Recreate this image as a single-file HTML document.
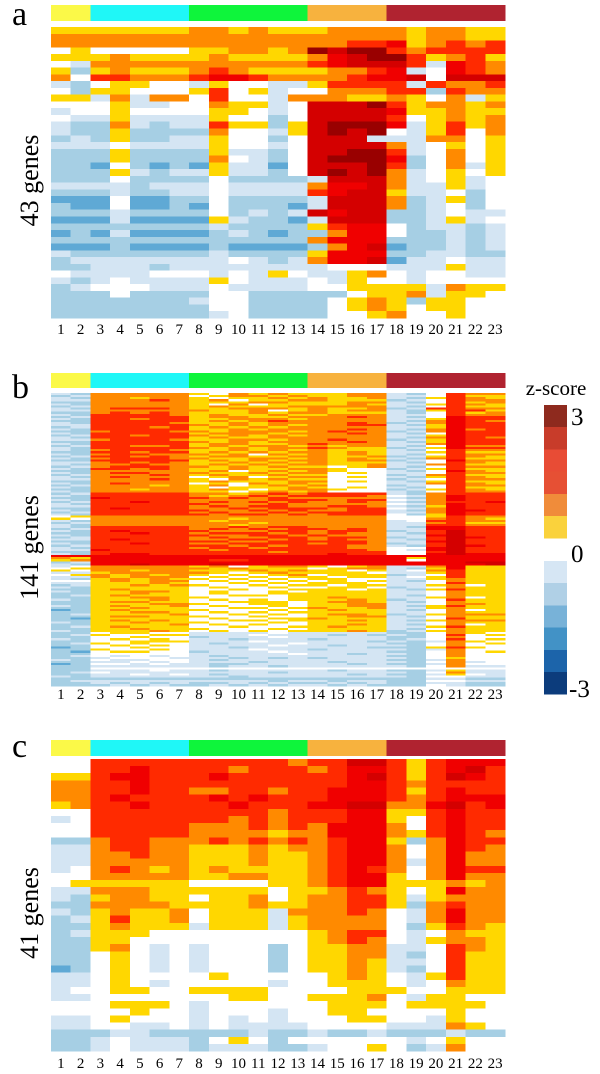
<!DOCTYPE html>
<html><head><meta charset="utf-8"><style>
html,body{margin:0;padding:0;background:#fff;width:600px;height:1074px;overflow:hidden}
svg{display:block}
text{font-family:"Liberation Serif","DejaVu Serif",serif;fill:#000}
</style></head><body>
<svg id="fig" width="600" height="1074" viewBox="0 0 600 1074" xmlns="http://www.w3.org/2000/svg" shape-rendering="crispEdges" font-family="Liberation Serif, serif"></svg>
<script>
// ---- data ----
const columns = ["1","2","3","4","5","6","7","8","9","10","11","12","13","14","15","16","17","18","19","20","21","22","23"];
const groupSpans = [[1,2],[3,7],[8,13],[14,17],[18,23]];
const groupColors = ["#fbf948","#1ff7f7","#0ef53b","#f7b23e","#b02330"];
// z-score level codes: 0..2 blues, 3 white (~0), 4..9 yellow->dark red
const levelColors = ["#5fa9d5","#a6cfe4","#d4e5f3","#ffffff","#ffd700","#ff8a00","#ff2a00","#f00000","#d40000","#990000"];
const panelA = [
"44444445545444555545544","55555555555555555545544","55555555555555566745656","34333334455459899656666",
"44454444544445789964564","32555555555556788862765","41454445654444556723765","53665556776555567783888",
"21344332433224666626556","31443334634233555661655","44252553633255544543524","33342233544238889645545",
"23343333443238888744544","32242222433138888634545","21152122644148999724645","21141111533248989324635",
"12141122433138882225534","22232222433238888523434","11141111422138899623534","11141111532138999713534",
"11031010422038889613524","11142122422138989523434","11131111311112888523423","22221222322225778522423",
"11121122322226788422313","00030011311112888512413","10030010311102888512313","11121111312128788112322",
"00020000421102888112423","11111111211114677312212","01020000121011577311212","11111111111115777111212",
"00010000100001578011212","21111111211114777112211","12222222232125778022322","11222122222222333222422",
"32222333232432245323322","21232222432223243323333","12333222322223344442544","11131111331111134452443",
"11111112331111345414433","11111111331111345434433","11111111231111334533433"];
const panelB = [
"21 55555 435454 4455 213655","12 55555 345545 4455 223644","21 55455 434454 5445 214654","22 55565 453445 5444 123655",
"11 55555 444554 4455 213645","21 55555 435344 4454 224654","12 55555 454445 5555 213644","21 56665 445554 5445 126655",
"22 55555 544534 5455 214664","11 56565 444545 5444 213645","21 66665 454454 4555 223655",
"12 66666 455445 5565 213766","21 66566 445554 5555 224766","11 66666 454565 5555 215765","21 66665 445455 5565 125766",
"22 66666 545454 5566 214766","12 66656 454545 5555 224766","21 66666 445455 5565 215756","11 56665 545554 5655 125766",
"21 66666 455545 5565 213766","12 66566 545454 5555 224766","21 66666 454455 5555 215765","22 56665 445545 5655 124766",
"11 66666 545455 5565 214766","21 66666 455445 6555 225766","12 66556 454554 5455 213755","21 66666 545455 6544 124766",
"21 56665 445454 5444 213655","11 66566 454545 5454 224644","21 56655 545354 5454 213655","12 66565 455445 5445 124654",
"21 56665 544554 5454 215644","11 66666 454545 5455 123755","22 56565 445454 5444 213654","21 55655 454545 5445 225644",
"12 56665 545454 4345 213655","21 66565 445445 5433 124644","11 55555 453454 5433 213754","21 56655 544545 5343 223655",
"12 55565 454454 4333 125644","21 56555 345345 5343 214654","22 55565 435454 4333 123655","11 55555 454445 5343 214644",
"21 56555 343545 4333 225654","12 55545 453454 5333 123655","21 55555 434445 4343 213644","11 55455 454345 5433 124654",
"21 55555 443454 5333 213655",
"12 66666 554565 6666 215666","21 66666 545656 6665 325766","11 76666 656565 5555 215766","21 66666 555566 6566 325766",
"12 66766 565656 5565 215667","21 66666 655565 5555 325766","22 66666 565665 5665 214766","11 67666 556566 6566 325766",
"21 66666 655656 5566 215776","12 66666 565565 6666 225766","21 66666 656656 5666 314766",
"34 55555 555555 5555 334655","43 55555 554555 5555 335654","21 55555 545555 5555 236655","12 55555 555455 5555 225644",
"21 55555 554555 5555 226655",
"21 66666 556566 5555 217766","12 66666 565656 6565 227766","21 67666 655566 5665 126866","11 66766 566656 5655 216866",
"21 66666 655665 6555 227866","12 66666 565566 5665 126876","22 67666 556656 5655 216866","11 66666 665566 6665 227866",
"21 66766 556666 5665 126866","12 66666 665656 6655 216876","21 66666 566566 6655 337866","22 76666 656666 6665 327866",
"11 66666 666656 6666 336866","21 67766 666666 6766 337877","77 77777 777777 7777 777777","54 77777 777777 7777 747777",
"45 77777 766777 7777 737777","12 77777 777777 7777 777788","21 77877 787777 7777 777778",
"23 55555 453455 4345 225744","34 55555 545444 3455 214744","43 55455 444545 4434 235644","22 45555 543454 4443 224644",
"34 54545 434345 3444 123644","22 54555 343434 4344 234644","21 45454 434343 4433 224544","33 45455 343434 3434 213544",
"22 44454 334343 4443 223644","12 44545 433434 4344 224534","21 44444 343343 3443 123544","11 45444 334334 4434 214644",
"21 44554 343343 4444 223544",
"11 44544 343344 4444 223544","12 45444 334434 4444 213544","11 44554 433334 4544 224534","21 44454 343434 4454 123644",
"11 45544 334443 4554 213544","11 44455 433443 4455 223554","21 45445 343343 4455 214644","11 44544 334434 5445 224544",
"01 45444 433343 4544 213534","11 44554 343434 4444 223544","12 44445 334343 4554 124555","11 45544 433433 4455 213544",
"10 44444 343344 5444 223644","11 45454 334434 4454 214555","21 44544 433343 4444 223544","11 44445 343433 4454 213534",
"12 45444 334334 4544 224644","11 44544 433343 4444 213544","21 44454 343434 4454 124544",
"11 34433 222232 2222 113543","12 43344 222322 2121 213634","11 33433 122232 2222 113533","21 34343 221222 1222 123634",
"11 33444 222322 2221 212543","12 43433 212223 2222 113534","11 34343 222232 2122 213533","01 33433 221222 2221 114643",
"11 43343 222322 1222 212533","10 34433 122232 2222 113534","11 33333 222223 2212 213533","12 32323 212222 2222 113533",
"11 23332 221212 1222 213433","21 32233 212222 2222 112533","11 22323 222122 2122 213523","01 33232 211222 2212 112533",
"11 22222 212212 2222 213522","11 33333 333333 3333 333333","11 22232 212222 2122 112422","12 32222 222212 2222 213522",
"11 22323 212222 2212 112432","21 22222 221222 2222 213322","11 11111 111111 1111 112211","12 22222 222212 2122 113322",
"11 21212 112121 1212 112211","11 12121 121212 2121 113211"];
const panelC = [
"33 66666 666665 6688 646777","33 66766 665666 5677 646786","44 67766 676666 6678 646876","55 66766 666666 6677 656666",
"55 66766 556656 6777 646766","55 67666 676766 6777 656777","45 66766 667666 7788 557867","33 66666 666656 6677 446766",
"23 66666 665656 6677 436766","33 66666 555656 5777 536766","33 66666 555545 5777 546765","11 56655 565656 5677 415766",
"22 56655 444545 5677 535765","22 55655 444544 5677 535755","22 55555 444544 5677 525755","23 56545 454444 5676 535766",
"33 55555 445544 5677 435755","34 44444 333344 5677 444545","22 55544 444434 4565 434755","21 45544 344534 5566 424555",
"11 55554 444544 5566 415655","21 45445 344425 5565 325755","12 46445 344424 5555 325755","11 45444 244424 5555 314654",
"12 44433 333333 4566 323544","11 44333 333333 4565 324554","11 45323 233313 4455 223654","11 34323 233313 4455 213644",
"11 34323 233313 4454 223644","01 34323 233313 4454 213644","22 34333 343333 3454 324644","22 34323 333323 3444 323544",
"23 34433 444433 3344 433444","22 33333 334433 4445 324433","33 34443 233333 3444 344443","33 33433 233323 3443 333433",
"22 34333 232323 3344 332433","22 33223 232222 3333 222543","11 12211 111211 2112 111211","11 23222 134313 3333 323433",
"11 23222 122211 2334 312533"];
const legendWarm = ["#8e2a1e","#c83c2a","#e84c35","#e65034","#f08c3a","#fad23c"];
const legendCool = ["#d6e6f4","#b0d0e6","#78b2d8","#4292c6","#1c64aa","#0c3c7c"];
const panels = [
  {id:"a", letter:"a", genes:"43 genes", rows:panelA, barTop:5, barBot:21, top:27, bot:318, lab:334, letterY:25},
  {id:"b", letter:"b", genes:"141 genes", rows:panelB, barTop:373, barBot:388, top:393, bot:686, lab:699, letterY:398},
  {id:"c", letter:"c", genes:"41 genes", rows:panelC, barTop:740, barBot:756, top:759, bot:1051, lab:1068, letterY:757}
];
// ---- drawing ----
const NS="http://www.w3.org/2000/svg";
const svg=document.getElementById('fig');
const X0=51, X1=505;
const colW=(X1-X0)/columns.length;
const xScale=i=>X0+i*colW;
const FONT='"Liberation Serif", serif';
function mk(tag,attrs,parent){const e=document.createElementNS(NS,tag);for(const k in attrs)e.setAttribute(k,attrs[k]);(parent||svg).appendChild(e);return e;}
function parseRow(s){s=s.replace(/ /g,'');while(s.length<columns.length)s+='3';return s.slice(0,columns.length).split('').map(Number);}
panels.forEach(p=>{
  const g=mk('g',{});
  
  
  groupSpans.forEach((sp,k)=>{
    const r=mk('rect',{x:xScale(sp[0]-1),y:p.barTop,width:xScale(sp[1])-xScale(sp[0]-1)+0.5,height:p.barBot-p.barTop,fill:groupColors[k]},g);
    
    
  });
  const hm=mk('g',{},g);
  
  
  const n=p.rows.length, rh=(p.bot-p.top)/n;
  const yScale=r=>p.top+r*rh;
  p.rows.forEach((row,ri)=>{
    parseRow(row).forEach((v,ci)=>{
      const c=mk('rect',{x:xScale(ci),y:yScale(ri),width:colW+0.6,height:rh+0.6,fill:levelColors[v]},hm);
      
      
    });
  });
  columns.forEach((lab,ci)=>{
    const t=mk('text',{x:xScale(ci)+colW/2,y:p.lab,'text-anchor':'middle','font-size':'15','font-family':FONT},g);
    t.textContent=lab;
    
    
  });
  const L=mk('text',{x:12,y:p.letterY,'font-size':'34','font-family':FONT},g);
  L.textContent=p.letter;
  
  
  const cy=(p.top+p.bot)/2+8;
  const G=mk('text',{x:0,y:0,'font-size':'26','text-anchor':'middle','font-family':FONT,transform:`translate(38,${cy}) rotate(-90)`},g);
  G.textContent=p.genes;
  
  
});
// colour legend
const lg=mk('g',{});


const lt=mk('text',{x:556,y:395,'font-size':'21','text-anchor':'middle','font-family':FONT},lg);
lt.textContent='z-score';


const segH=22.2;
legendWarm.forEach((c,i)=>{
  const r=mk('rect',{x:544,y:405+i*segH,width:23,height:segH+0.5,fill:c},lg);
  
  
});
legendCool.forEach((c,i)=>{
  const r=mk('rect',{x:544,y:561+i*segH,width:23,height:segH+0.5,fill:c},lg);
  
  
});
[["3",571,425],["0",571,562],["-3",569,697]].forEach(([s,x,y])=>{
  const t=mk('text',{x:x,y:y,'font-size':'25','font-family':FONT},lg);
  t.textContent=s;
  
  
});
</script>
</body></html>
